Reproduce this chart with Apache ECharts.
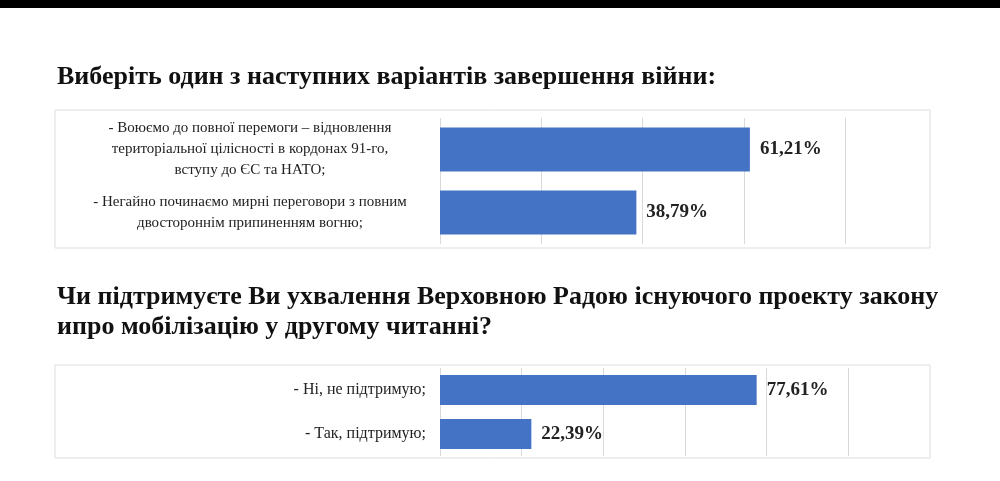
<!DOCTYPE html><html><head><meta charset="utf-8"><script src="https://cdn.jsdelivr.net/npm/echarts@6/dist/echarts.min.js"></script>
<style>html,body{margin:0;background:#fff}#c{width:1000px;height:481px}</style></head><body><div id="c"></div><script>
const title1 = 'Виберіть один з наступних варіантів завершення війни:';
const title2 = 'Чи підтримуєте Ви ухвалення Верховною Радою існуючого проекту закону\nипро мобілізацію у другому читанні?';
const cats1 = ['- Воюємо до повної перемоги – відновлення\nтериторіальної цілісності в кордонах 91-го,\nвступу до ЄС та НАТО;', '- Негайно починаємо мирні переговори з повним\nдвостороннім припиненням вогню;'];
const vals1 = [61.21, 38.79];
const cats2 = ['- Ні, не підтримую;', '- Так, підтримую;'];
const vals2 = [77.61, 22.39];
const serif = 'Liberation Serif, DejaVu Serif, serif';
const ch = echarts.init(document.getElementById('c'));
const lbl = {show:true, position:'right', distance:10, fontFamily:serif, fontWeight:'bold', fontSize:19, color:'#222', formatter:p=>p.value.toFixed(2).replace('.',',')+'%'};
ch.setOption({
  animation:false,
  graphic:[
    {type:'rect', shape:{x:0,y:0,width:1000,height:8}, style:{fill:'#000'}},
    {type:'rect', shape:{x:55,y:110,width:875,height:138}, style:{fill:'none',stroke:'#ddd',lineWidth:1}},
    {type:'rect', shape:{x:55,y:365,width:875,height:93}, style:{fill:'none',stroke:'#ddd',lineWidth:1}},
    {type:'text', left:57, top:64, style:{text:title1, font:'bold 26px '+serif, fill:'#111'}},
    {type:'text', left:57, top:282, style:{text:title2, font:'bold 26px '+serif, fill:'#111', lineHeight:30}}
  ],
  grid:[{left:440, width:405, top:118, height:126}, {left:440, width:408, top:368, height:88}],
  xAxis:[
    {gridIndex:0, type:'value', min:0, max:80, interval:20, axisLabel:{show:false}, axisLine:{show:false}, axisTick:{show:false}, splitLine:{lineStyle:{color:'#d9d9d9'}}},
    {gridIndex:1, type:'value', min:0, max:100, interval:20, axisLabel:{show:false}, axisLine:{show:false}, axisTick:{show:false}, splitLine:{lineStyle:{color:'#d9d9d9'}}}
  ],
  yAxis:[
    {gridIndex:0, type:'category', inverse:true, data:cats1, axisLine:{show:false}, axisTick:{show:false}, axisLabel:{margin:190, fontFamily:serif, fontSize:15, color:'#222', align:'center', lineHeight:21}},
    {gridIndex:1, type:'category', inverse:true, data:cats2, axisLine:{show:false}, axisTick:{show:false}, axisLabel:{margin:14, fontFamily:serif, fontSize:16, color:'#222'}}
  ],
  series:[
    {type:'bar', xAxisIndex:0, yAxisIndex:0, data:vals1, barWidth:44, itemStyle:{color:'#4472C4'}, label:lbl},
    {type:'bar', xAxisIndex:1, yAxisIndex:1, data:vals2, barWidth:30, itemStyle:{color:'#4472C4'}, label:lbl}
  ]
});
</script></body></html>
